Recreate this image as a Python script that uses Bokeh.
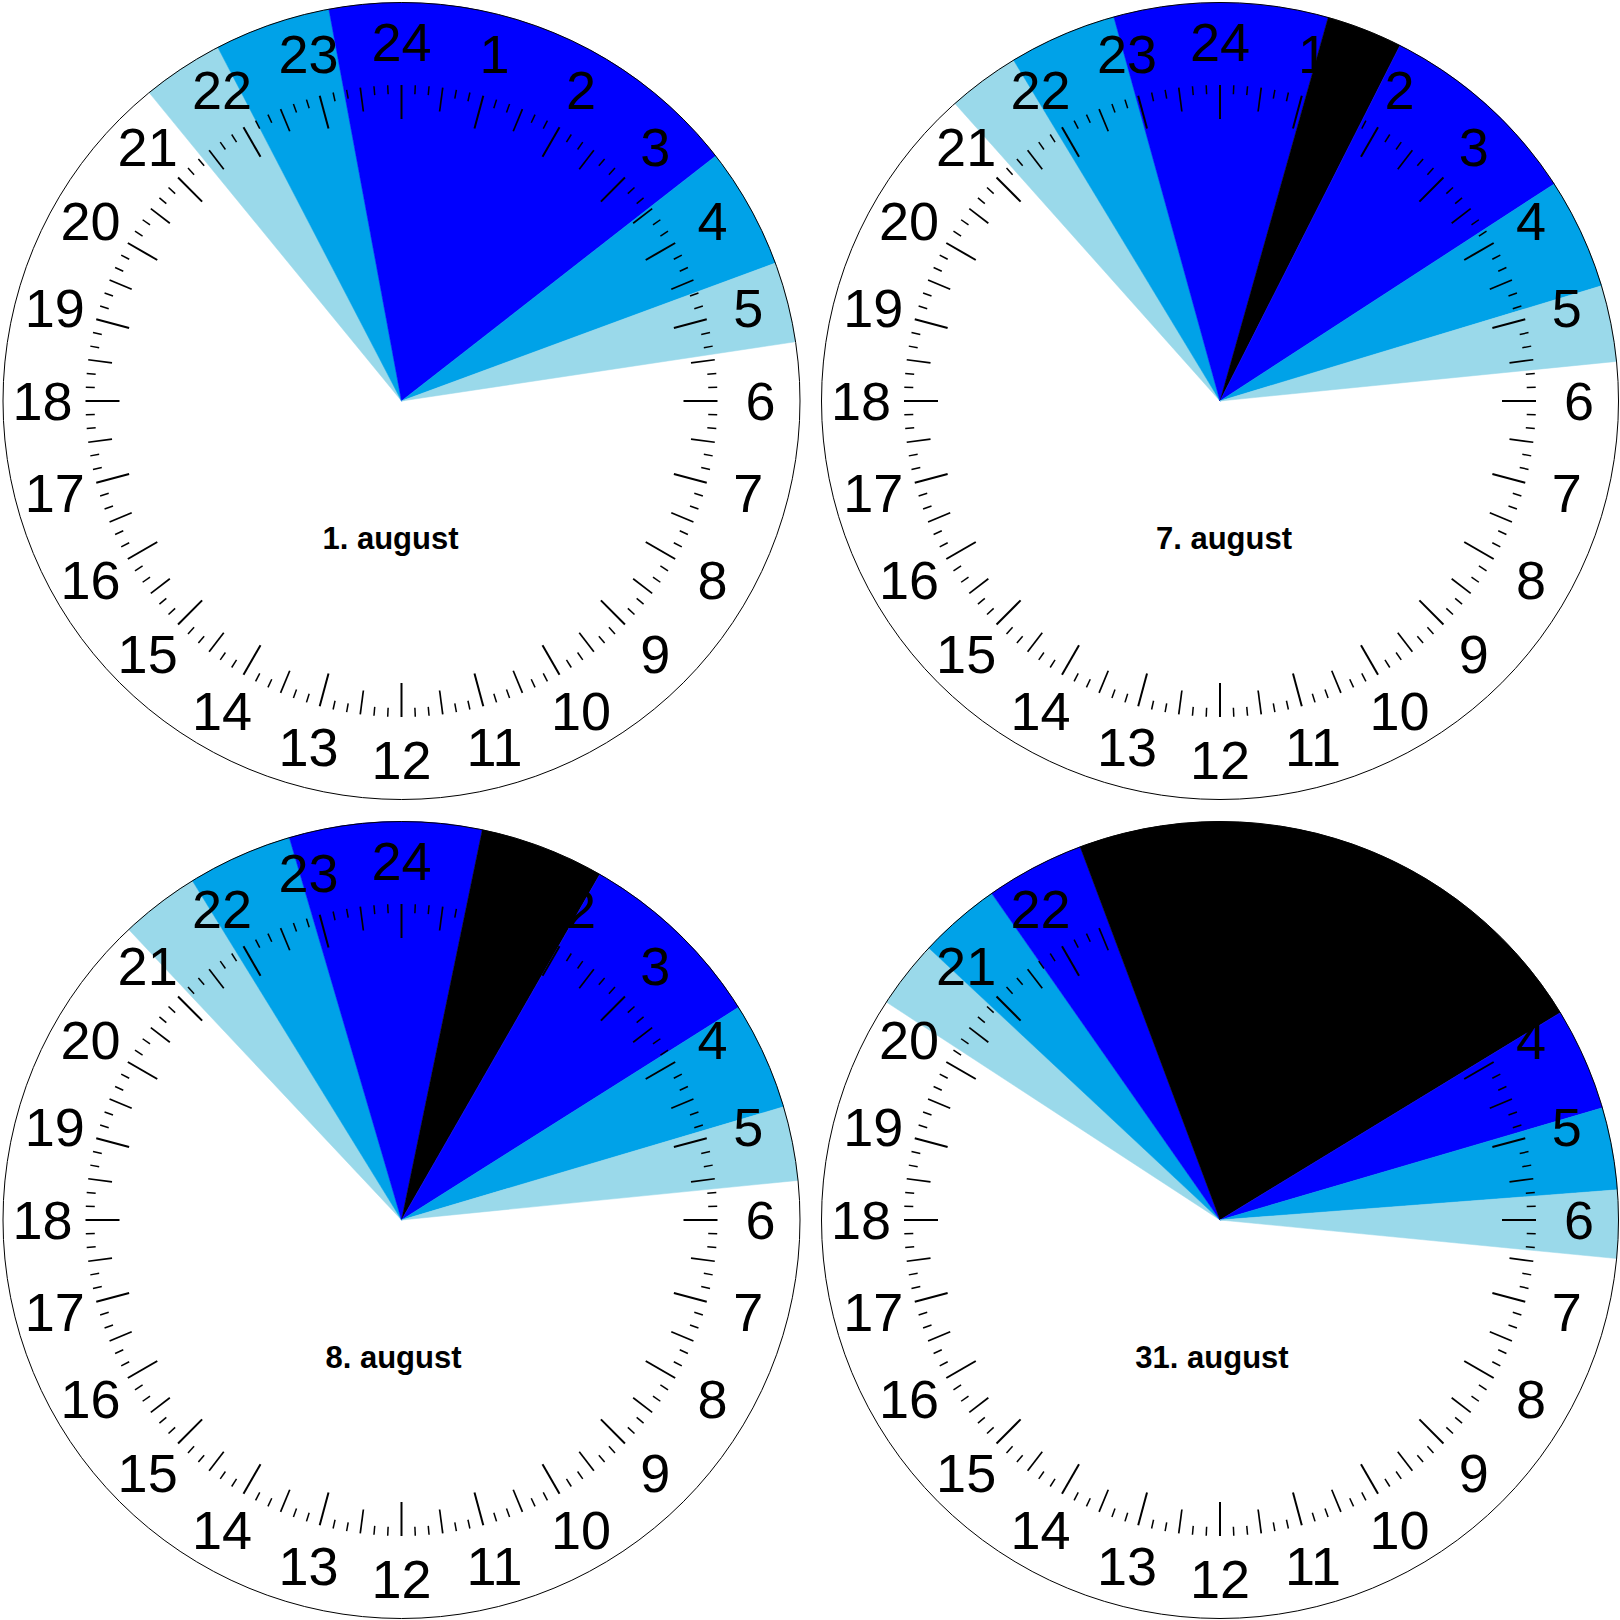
import numpy as np
from bokeh.plotting import figure
from bokeh.models import Range1d
from bokeh.core.properties import value
from bokeh.embed import file_html
from bokeh.resources import INLINE

# ---- data (decimal clock hours, 24 h dial, 24 at top, clockwise) ----
dates = ["1. august", "7. august", "8. august", "31. august"]
sunset        = [21.38, 21.22, 21.12, 20.21]
civil_dusk    = [22.17, 21.92, 21.89, 20.87]
nautical_dusk = [23.30, 22.97, 22.91, 21.67]
astro_dusk    = [None,  1.05,  0.78,  22.63]
astro_dawn    = [None,  1.79,  1.99,  3.91]
nautical_dawn = [3.47,  3.80,  3.85,  4.91]
civil_dawn    = [4.65,  4.88,  4.90,  5.71]
sunrise       = [5.43,  5.62,  5.62,  6.37]
hour_labels = [str(h) for h in range(1, 25)]

# ---- colours ----
C_CIVIL = "#9AD9EA"
C_NAUT = "#00A2E8"
C_ASTRO = "#0000FF"
C_NIGHT = "#000000"

# ---- layout (reference pixel frame; y flipped into data space) ----
W = 1620
panel_cx = [401.0, 1219.5, 401.0, 1219.5]
panel_cy = [W - 400.5, W - 400.5, W - 1219.5, W - 1219.5]
R_DIAL = 398.5
R_TICK_OUT = 316.0
TICK_LEN_HOUR, TICK_LEN_HALF, TICK_LEN_MIN = 34.0, 24.0, 9.0
R_LABEL = 359.0
LABEL_PX = 54
DATE_PX = 31
date_dx = [-11, 4, -8, -8]
DATE_DY = 137

p = figure(width=W, height=W, x_range=Range1d(0, W), y_range=Range1d(0, W),
           output_backend="svg", toolbar_location=None, min_border=0,
           x_axis_type=None, y_axis_type=None)
p.grid.visible = False
p.outline_line_color = None
p.background_fill_color = "white"


def ang(h):
    return np.radians(90.0 - 15.0 * h)


wx, wy, ws, we, wc = [], [], [], [], []
for i in range(4):
    segs = [(sunset[i], civil_dusk[i], C_CIVIL),
            (civil_dusk[i], nautical_dusk[i], C_NAUT)]
    if astro_dusk[i] is None:
        segs.append((nautical_dusk[i], nautical_dawn[i], C_ASTRO))
    else:
        segs += [(nautical_dusk[i], astro_dusk[i], C_ASTRO),
                 (astro_dusk[i], astro_dawn[i], C_NIGHT),
                 (astro_dawn[i], nautical_dawn[i], C_ASTRO)]
    segs += [(nautical_dawn[i], civil_dawn[i], C_NAUT),
             (civil_dawn[i], sunrise[i], C_CIVIL)]
    for h0, h1, c in segs:
        if h1 < h0:
            h1 += 24
        wx.append(panel_cx[i]); wy.append(panel_cy[i])
        ws.append(ang(h1)); we.append(ang(h0)); wc.append(c)

p.wedge(x=wx, y=wy, radius=R_DIAL, start_angle=ws, end_angle=we,
        direction="anticlock", fill_color=wc, line_color=wc, line_width=0.5)

# dial outline
p.circle(x=panel_cx, y=panel_cy, radius=R_DIAL, fill_color=None,
         line_color="black", line_width=1)

# ticks every 10 minutes
for kind, lw in (("min", 1.5), ("half", 1.7), ("hour", 2.0)):
    x0, y0, x1, y1 = [], [], [], []
    for i in range(4):
        for m in range(144):
            if m % 6 == 0:
                k, L = "hour", TICK_LEN_HOUR
            elif m % 3 == 0:
                k, L = "half", TICK_LEN_HALF
            else:
                k, L = "min", TICK_LEN_MIN
            if k != kind:
                continue
            a = ang(m / 6.0)
            x0.append(panel_cx[i] + R_TICK_OUT * np.cos(a))
            y0.append(panel_cy[i] + R_TICK_OUT * np.sin(a))
            x1.append(panel_cx[i] + (R_TICK_OUT - L) * np.cos(a))
            y1.append(panel_cy[i] + (R_TICK_OUT - L) * np.sin(a))
    p.segment(x0=x0, y0=y0, x1=x1, y1=y1, line_color="black", line_width=lw)

# hour labels
lx, ly, lt = [], [], []
for i in range(4):
    for j, lab in enumerate(hour_labels):
        h = j + 1
        a = ang(h)
        lx.append(panel_cx[i] + R_LABEL * np.cos(a))
        ly.append(panel_cy[i] + R_LABEL * np.sin(a))
        lt.append(lab)
p.text(x=lx, y=ly, text=lt, text_font=value("Liberation Sans"),
       text_font_size=f"{LABEL_PX}px", text_align="center",
       text_baseline="alphabetic", text_color="black")

# date labels
p.text(x=[panel_cx[i] + date_dx[i] for i in range(4)],
       y=[panel_cy[i] - DATE_DY for i in range(4)],
       text=dates, text_font=value("Liberation Sans"), text_font_style="bold",
       text_font_size=f"{DATE_PX}px", text_align="center",
       text_baseline="alphabetic", text_color="black")

open("out.html", "w").write(file_html(p, INLINE))
